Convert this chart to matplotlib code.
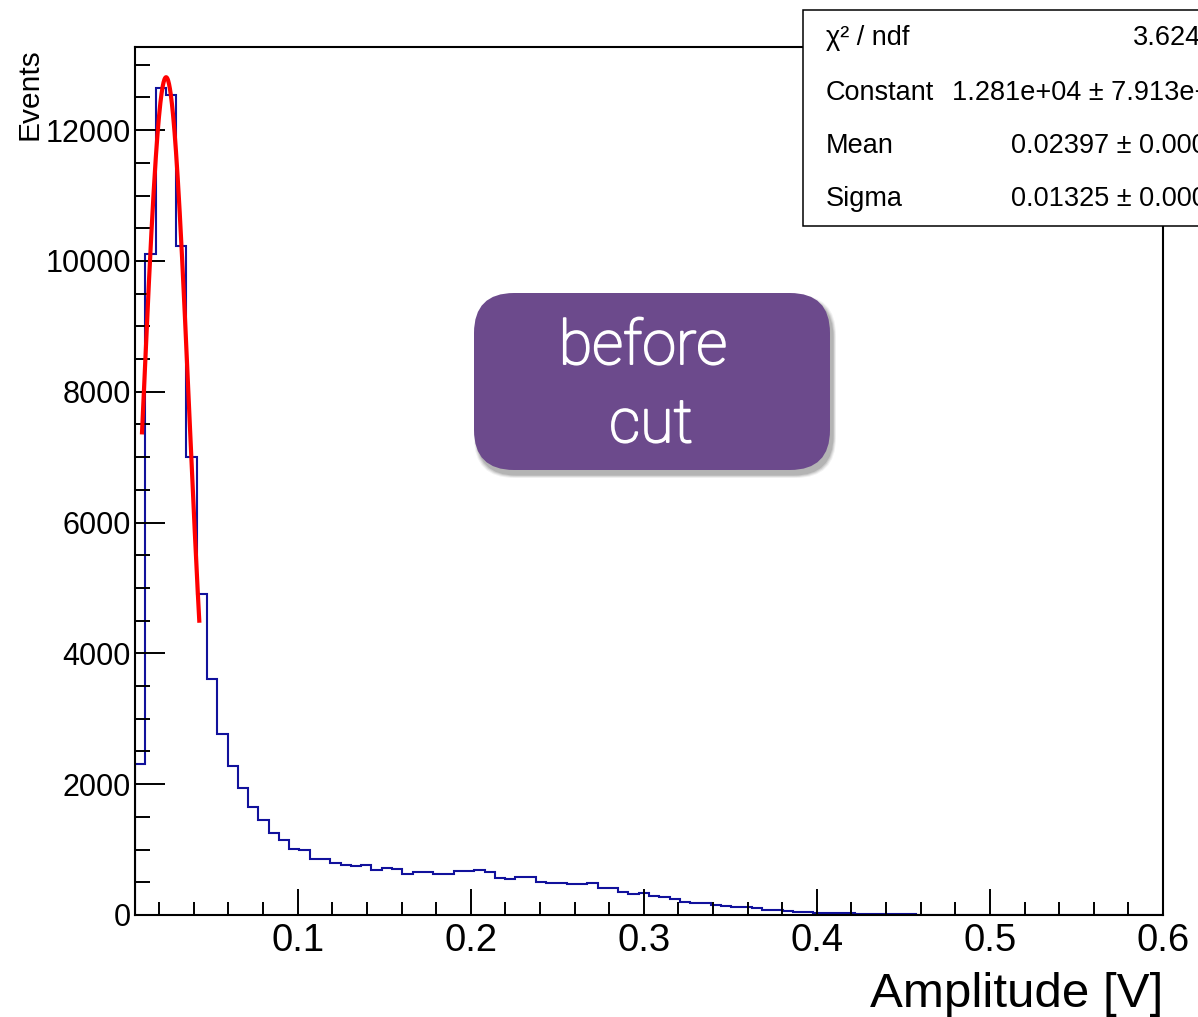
#!/usr/bin/env python3
# Amplitude spectrum with a gaussian fit on the first peak, ROOT-style frame and stat box.

import matplotlib.pyplot as plt
import matplotlib.patheffects as pe
import numpy as np
from matplotlib.patches import FancyBboxPatch, Rectangle

plt.rcParams['font.family'] = ['Liberation Sans', 'DejaVu Sans']

# histogram: 100 bins between 0.006 and 0.6 V
x_lo, x_hi, nbins = 0.006, 0.6, 100
counts = [
    2311, 10110, 12640, 12537, 10226, 7004, 4912, 3607, 2765, 2280,
    1938, 1648, 1459, 1260, 1148, 1005, 1000, 852, 850, 795,
    765, 745, 772, 689, 714, 702, 625, 660, 660, 633,
    633, 673, 670, 689, 653, 561, 546, 587, 587, 510,
    485, 485, 469, 479, 495, 408, 408, 357, 321, 337,
    296, 270, 245, 197, 189, 179, 153, 138, 117, 115,
    102, 80, 77, 61, 48, 46, 36, 31, 30, 26,
    22, 19, 16, 13, 11, 9, 7, 6, 5, 4,
    3, 3, 2, 2, 2, 1, 1, 1, 1, 0,
    1, 0, 0, 1, 0, 0, 0, 0, 0, 0,
]

# gaussian fit result
fit_const, fit_mean, fit_sigma = 1.281e4, 0.02397, 0.01325
fit_range = (0.0100, 0.0432)

stat_names = ['χ² / ndf', 'Constant', 'Mean', 'Sigma']
stat_values = ['3.624', '1.281e+04 ± 7.913e+01', '0.02397 ± 0.00007', '0.01325 ± 0.00008']

xticks = [0.1, 0.2, 0.3, 0.4, 0.5, 0.6]
yticks = [0, 2000, 4000, 6000, 8000, 10000, 12000]

W, H = 1198, 1017
fig = plt.figure(figsize=(W / 100, H / 100), dpi=100)
fig.patch.set_facecolor('white')

ax = fig.add_axes([135 / W, 1 - 915 / H, (1163 - 135) / W, (915 - 47) / H])

edges = np.linspace(x_lo, x_hi, nbins + 1)
ax.stairs(counts, edges, color='#11119c', linewidth=1.5, baseline=0)

xf = np.linspace(fit_range[0], fit_range[1], 200)
yf = fit_const * np.exp(-0.5 * ((xf - fit_mean) / fit_sigma) ** 2)
ax.plot(xf, yf, color='#ff0000', linewidth=3, solid_capstyle='butt')

ax.set_xlim(x_lo, x_hi)
ax.set_ylim(0, 1.05 * max(counts))

for s in ax.spines.values():
    s.set_linewidth(1.5)

ax.set_xticks(xticks)
ax.set_xticklabels([f'{v:g}' for v in xticks])
ax.set_xticks(np.arange(0.02, 0.6, 0.02), minor=True)
ax.set_yticks(yticks)
ax.set_yticklabels([str(v) for v in yticks])
ax.set_yticks(np.arange(500, 13500, 500), minor=True)

ax.tick_params(axis='x', which='major', direction='in', length=19, width=1.4,
               labelsize=27.5, pad=6)
ax.tick_params(axis='x', which='minor', direction='in', length=9.5, width=1.4)
ax.tick_params(axis='y', which='major', direction='in', length=21.5, width=1.4,
               labelsize=22, pad=3)
ax.tick_params(axis='y', which='minor', direction='in', length=11, width=1.4)

# axis titles
fig.text(30 / W, 1 - 48 / H, 'Events', rotation=90, ha='center', va='top', fontsize=21.5)
fig.text(1163 / W, 1 - 1007 / H, 'Amplitude [V]', ha='right', va='baseline', fontsize=35.5)

# overlay in pixel units for the stat box and the label box
ov = fig.add_axes([0, 0, 1, 1], zorder=5)
ov.set_xlim(0, W)
ov.set_ylim(H, 0)
ov.axis('off')

ov.add_patch(Rectangle((803, 10), 500, 216, facecolor='white', edgecolor='black', linewidth=1.1))
rows_y = [38, 93, 146, 199]
value_x = [1133, 952, 1011, 1011]
for name, val, yy, vx in zip(stat_names, stat_values, rows_y, value_x):
    ov.text(826, yy, name, ha='left', va='center', fontsize=19.5)
    ov.text(vx, yy, val, ha='left', va='center', fontsize=19.5)

# "before cut" box with a soft shadow
for i, a in enumerate([0.05, 0.07, 0.09, 0.11]):
    d = 3 - i * 0.8
    ov.add_patch(FancyBboxPatch((474 + 3 - d, 293 + 5 - d), 356 + 2 * d, 177 + 2 * d,
                                boxstyle='round,pad=0,rounding_size=40',
                                facecolor='black', edgecolor='none', alpha=a))
ov.add_patch(FancyBboxPatch((474, 293), 356, 177, boxstyle='round,pad=0,rounding_size=40',
                            facecolor='#6c4a8c', edgecolor='none'))
thicken = [pe.withStroke(linewidth=1.4, foreground='white')]
ov.text(643, 364, 'before', ha='center', va='baseline', color='white', fontsize=44,
        family=['Roboto', 'DejaVu Sans'], fontweight='light', path_effects=thicken)
ov.text(651, 442, 'cut', ha='center', va='baseline', color='white', fontsize=44,
        family=['Roboto', 'DejaVu Sans'], fontweight='light', path_effects=thicken)

fig.savefig('out.png', dpi=100, facecolor='white')
